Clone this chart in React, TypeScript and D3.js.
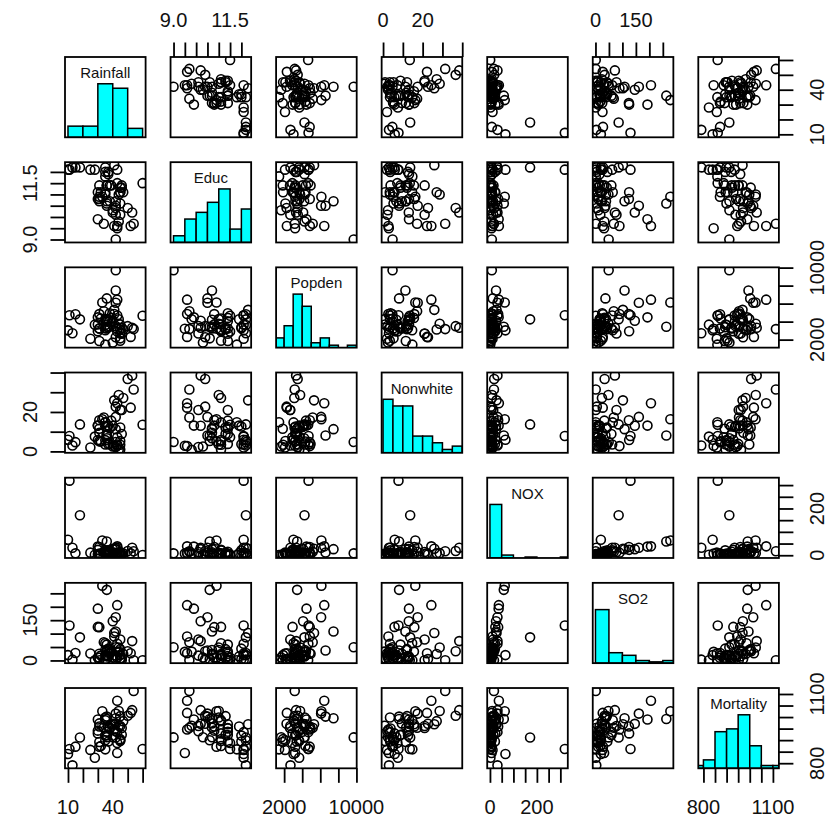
import { useEffect, useRef } from 'react';
import * as d3 from 'd3';

// air pollution data, 60 cities
const rainfall = [36, 35, 44, 47, 43, 53, 43, 45, 36, 36, 52, 33, 40, 35, 37, 35, 36, 15, 31, 30,
  31, 31, 42, 43, 46, 39, 35, 43, 11, 30, 50, 60, 30, 25, 45, 46, 54, 42, 42, 36,
  37, 42, 41, 44, 32, 34, 10, 18, 13, 35, 45, 38, 31, 40, 41, 28, 45, 45, 42, 38];
const educ = [11.4, 11.0, 9.8, 11.1, 9.6, 10.2, 12.1, 10.6, 10.5, 10.7, 9.6, 10.9, 10.2, 11.1, 11.9, 11.8, 11.4, 12.2, 10.8, 10.8,
  11.4, 10.9, 10.4, 11.5, 11.4, 11.4, 12.0, 9.5, 12.1, 9.9, 10.4, 11.5, 11.1, 12.1, 10.1, 11.3, 9.7, 10.7, 10.5, 10.6,
  12.0, 10.1, 9.6, 11.0, 11.1, 9.7, 12.1, 12.2, 12.2, 12.2, 11.1, 11.4, 10.7, 10.3, 12.3, 12.1, 11.3, 11.1, 9.0, 10.7];
const popden = [3243, 4281, 4260, 3125, 6441, 3325, 4679, 2140, 6582, 4213, 2302, 6122, 4101, 3042, 4259, 1441, 4029, 4824, 4834, 3694,
  1844, 3226, 2269, 2909, 2647, 4412, 3262, 3214, 4700, 4474, 3497, 4657, 2934, 2095, 2682, 3327, 3172, 7462, 6092, 3437,
  3387, 3508, 4843, 3768, 4355, 5160, 3033, 4253, 2702, 3626, 1883, 4923, 3249, 1671, 5308, 3665, 3152, 3678, 9699, 3451];
const nonwhite = [8.8, 3.5, 0.8, 27.1, 24.4, 38.5, 3.5, 5.3, 8.1, 6.7, 22.2, 16.3, 13.0, 14.7, 13.1, 14.8, 12.4, 4.7, 15.8, 13.1,
  11.5, 5.1, 22.7, 7.2, 21.0, 15.6, 12.6, 2.9, 7.8, 13.1, 36.7, 13.5, 5.8, 2.0, 21.0, 8.8, 31.4, 11.3, 17.5, 8.1,
  3.6, 2.2, 2.7, 28.6, 5.0, 17.2, 5.9, 13.7, 3.0, 5.7, 3.4, 3.8, 9.5, 2.5, 25.9, 7.5, 12.1, 1.0, 4.8, 11.7];
const nox = [15, 10, 6, 8, 38, 32, 32, 4, 12, 7, 8, 63, 26, 21, 9, 1, 4, 8, 35, 4,
  1, 3, 3, 3, 5, 7, 4, 7, 319, 37, 18, 1, 23, 11, 14, 3, 17, 26, 32, 59,
  21, 4, 11, 9, 4, 15, 66, 171, 32, 7, 4, 5, 7, 2, 28, 2, 11, 3, 8, 13];
const so2 = [59, 39, 33, 24, 206, 72, 62, 4, 37, 20, 27, 278, 146, 64, 15, 1, 16, 28, 124, 11,
  1, 10, 5, 10, 1, 33, 4, 32, 130, 193, 34, 1, 125, 26, 78, 8, 1, 108, 161, 263,
  44, 18, 89, 48, 18, 68, 20, 86, 3, 20, 20, 25, 25, 11, 102, 1, 42, 8, 49, 39];
const mortality = [921.9, 997.9, 962.4, 982.3, 1071.0, 1030.0, 934.7, 899.5, 1002.0, 912.3, 1018.0, 1025.0, 970.5, 986.0, 958.8, 860.1, 936.2, 871.8, 959.2, 941.2,
  891.7, 871.3, 971.1, 887.5, 952.5, 968.7, 919.7, 844.1, 861.8, 989.3, 1006.0, 861.4, 929.2, 857.6, 961.0, 923.2, 1113.0, 994.6, 1015.0, 991.3,
  893.9, 938.5, 946.2, 1026.0, 874.3, 953.6, 839.7, 911.7, 790.7, 899.3, 904.2, 950.7, 972.5, 912.2, 968.8, 823.8, 1004.0, 895.7, 911.8, 954.4];

const varNames = ['Rainfall', 'Educ', 'Popden', 'Nonwhite', 'NOX', 'SO2', 'Mortality'];
const columns = [rainfall, educ, popden, nonwhite, nox, so2, mortality];

// axis ticks and the labels R kept
const tickValues = [
  [10, 20, 30, 40, 50, 60],
  [9.0, 9.5, 10.0, 10.5, 11.0, 11.5, 12.0],
  [2000, 4000, 6000, 8000, 10000],
  [0, 10, 20, 30, 40],
  [0, 50, 100, 150, 200, 250, 300],
  [0, 50, 100, 150, 200, 250],
  [800, 850, 900, 950, 1000, 1050, 1100],
];
const tickLabels = [
  ['10', '40'],
  ['9.0', '11.5'],
  ['2000', '10000'],
  ['0', '20'],
  ['0', '200'],
  ['0', '150'],
  ['800', '1100'],
];

function App() {
  const svgRef = useRef(null);

  useEffect(() => {
    if (!svgRef.current) return;
    const svg = d3.select(svgRef.current);
    svg.selectAll('*').remove();

    const n = varNames.length;
    const left0 = 65, top0 = 57;
    const stepX = 105.55, stepY = 105.17;
    const w = 80.6, h = 80.3;
    const tickLen = 14.5;
    const font = '"Liberation Sans", Arial, sans-serif';

    const xScales = columns.map(v => {
      const [lo, hi] = d3.extent(v);
      const pad = (hi - lo) * 0.04;
      return d3.scaleLinear().domain([lo - pad, hi + pad]).range([0, w]);
    });
    const yScales = columns.map(v => {
      const [lo, hi] = d3.extent(v);
      const pad = (hi - lo) * 0.04;
      return d3.scaleLinear().domain([lo - pad, hi + pad]).range([h, 0]);
    });

    const defs = svg.append('defs');
    defs.append('clipPath').attr('id', 'panel-clip')
      .append('rect').attr('x', 0).attr('y', 0).attr('width', w).attr('height', h);

    for (let i = 0; i < n; i++) {
      for (let j = 0; j < n; j++) {
        const g = svg.append('g')
          .attr('transform', `translate(${left0 + j * stepX},${top0 + i * stepY})`);
        const inner = g.append('g').attr('clip-path', 'url(#panel-clip)');

        if (i === j) {
          // histogram like R's hist(): right closed bins
          const vals = columns[i];
          const breaks = d3.scaleLinear().domain(d3.extent(vals)).nice(7).ticks(7);
          const counts = breaks.slice(0, -1).map((b, k) =>
            vals.filter(v => (k === 0 ? v >= b : v > b) && v <= breaks[k + 1]).length);
          const maxC = d3.max(counts);
          const hy = d3.scaleLinear().domain([0, 1.5]).range([h, 0]);
          const xs = xScales[i];
          inner.selectAll('rect.bar')
            .data(counts)
            .join('rect')
            .attr('class', 'bar')
            .attr('x', (c, k) => xs(breaks[k]))
            .attr('width', (c, k) => xs(breaks[k + 1]) - xs(breaks[k]))
            .attr('y', c => hy(c / maxC))
            .attr('height', c => hy(0) - hy(c / maxC))
            .attr('fill', '#00ffff')
            .attr('stroke', '#000')
            .attr('stroke-width', 1.5);

          g.append('text')
            .attr('x', w / 2)
            .attr('y', 21)
            .attr('text-anchor', 'middle')
            .attr('font-family', font)
            .attr('font-size', 15)
            .attr('fill', '#111')
            .text(varNames[i]);
        } else {
          const xs = xScales[j], ys = yScales[i];
          const xv = columns[j], yv = columns[i];
          inner.selectAll('circle')
            .data(d3.range(xv.length))
            .join('circle')
            .attr('cx', k => xs(xv[k]))
            .attr('cy', k => ys(yv[k]))
            .attr('r', 4.5)
            .attr('fill', 'none')
            .attr('stroke', '#000')
            .attr('stroke-width', 1.6);
        }

        g.append('rect')
          .attr('width', w).attr('height', h)
          .attr('fill', 'none')
          .attr('stroke', '#000')
          .attr('stroke-width', 1.8);
      }
    }

    const labelText = (sel) => sel
      .attr('font-family', font)
      .attr('font-size', 20)
      .attr('fill', '#111');

    // top and bottom axes
    for (let j = 0; j < n; j++) {
      const xs = xScales[j];
      const x0 = left0 + j * stepX;
      const top = j % 2 === 1;
      const axis = top ? d3.axisTop(xs) : d3.axisBottom(xs);
      axis.tickValues(tickValues[j]).tickSizeInner(tickLen).tickSizeOuter(0).tickFormat(() => '');
      const yEdge = top ? top0 : top0 + (n - 1) * stepY + h;
      const ax = svg.append('g')
        .attr('transform', `translate(${x0},${yEdge})`)
        .call(axis);
      ax.select('.domain').remove();
      ax.selectAll('line').attr('stroke', '#000').attr('stroke-width', 1.8);

      tickLabels[j].forEach(lab => {
        svg.append('text')
          .attr('x', x0 + xs(+lab))
          .attr('y', top ? yEdge - 30 : yEdge + 46)
          .attr('text-anchor', 'middle')
          .call(labelText)
          .text(lab);
      });
    }

    // left and right axes
    for (let i = 0; i < n; i++) {
      const ys = yScales[i];
      const y0 = top0 + i * stepY;
      const leftSide = i % 2 === 1;
      const axis = leftSide ? d3.axisLeft(ys) : d3.axisRight(ys);
      axis.tickValues(tickValues[i]).tickSizeInner(tickLen).tickSizeOuter(0).tickFormat(() => '');
      const xEdge = leftSide ? left0 : left0 + (n - 1) * stepX + w;
      const ax = svg.append('g')
        .attr('transform', `translate(${xEdge},${y0})`)
        .call(axis);
      ax.select('.domain').remove();
      ax.selectAll('line').attr('stroke', '#000').attr('stroke-width', 1.8);

      tickLabels[i].forEach(lab => {
        const tx = leftSide ? xEdge - 28 : xEdge + 45;
        const ty = y0 + ys(+lab);
        svg.append('text')
          .attr('transform', `translate(${tx},${ty}) rotate(-90)`)
          .attr('text-anchor', 'middle')
          .call(labelText)
          .text(lab);
      });
    }
  }, []);

  return (
    <svg ref={svgRef} width={829} height={819}
      style={{ position: 'absolute', left: 0, top: 0, background: '#fff', display: 'block' }} />
  );
}

export default App;
